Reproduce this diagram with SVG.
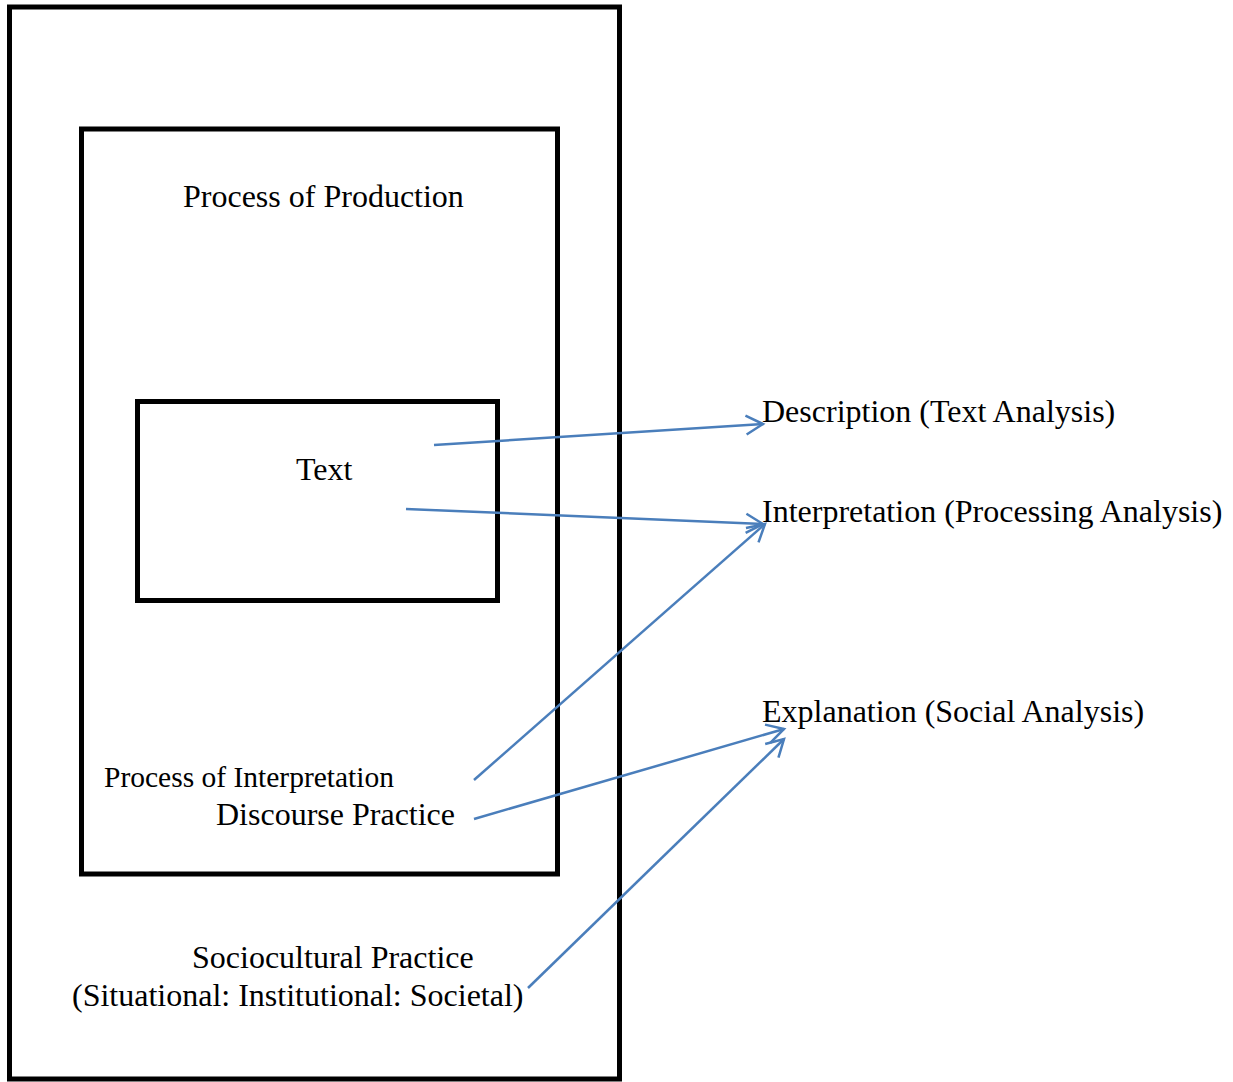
<svg xmlns="http://www.w3.org/2000/svg" width="1233" height="1082" viewBox="0 0 1233 1082">
<style>
.box{fill:none;stroke:#000;stroke-width:5}
.t{font-family:"Liberation Serif","Times New Roman",serif;font-size:32px;fill:#000}
.s{font-size:29.5px}
.c{fill:none;stroke:#4a7ebb;stroke-width:2.5}
</style>
<defs>
<marker id="ah" markerUnits="userSpaceOnUse" viewBox="-20 -12 24 24" refX="0" refY="0" markerWidth="24" markerHeight="24" orient="auto" overflow="visible">
<path d="M-17,-9.5 L0,0 L-17,9.5" fill="none" stroke="#4a7ebb" stroke-width="2.5"/>
</marker>
</defs>
<rect width="1233" height="1082" fill="#fff"/>
<g id="sociocultural">
<rect class="box" x="9.5" y="7" width="610" height="1072"/>
<text class="t" x="192" y="968">Sociocultural Practice</text>
<text class="t" x="72" y="1006">(Situational: Institutional: Societal)</text>
</g>
<g id="discourse">
<rect class="box" x="81.5" y="129" width="476" height="745"/>
<text class="t" x="183" y="207">Process of Production</text>
<text class="t s" x="104" y="787">Process of Interpretation</text>
<text class="t" x="216" y="825">Discourse Practice</text>
</g>
<g id="text">
<rect class="box" x="137.5" y="401.5" width="360" height="199"/>
<text class="t" x="296" y="480">Text</text>
</g>
<g id="description"><text class="t" x="762" y="422">Description (Text Analysis)</text></g>
<g id="interpretation"><text class="t" x="762" y="522">Interpretation (Processing Analysis)</text></g>
<g id="explanation"><text class="t" x="762" y="722">Explanation (Social Analysis)</text></g>
<g id="connectors">
<line class="c" x1="434" y1="445" x2="763" y2="424" marker-end="url(#ah)"/>
<line class="c" x1="406" y1="509" x2="763" y2="524" marker-end="url(#ah)"/>
<line class="c" x1="474" y1="780" x2="765" y2="524" marker-end="url(#ah)"/>
<line class="c" x1="474" y1="819" x2="784" y2="729" marker-end="url(#ah)"/>
<line class="c" x1="528" y1="988" x2="784" y2="739" marker-end="url(#ah)"/>
</g>
</svg>
